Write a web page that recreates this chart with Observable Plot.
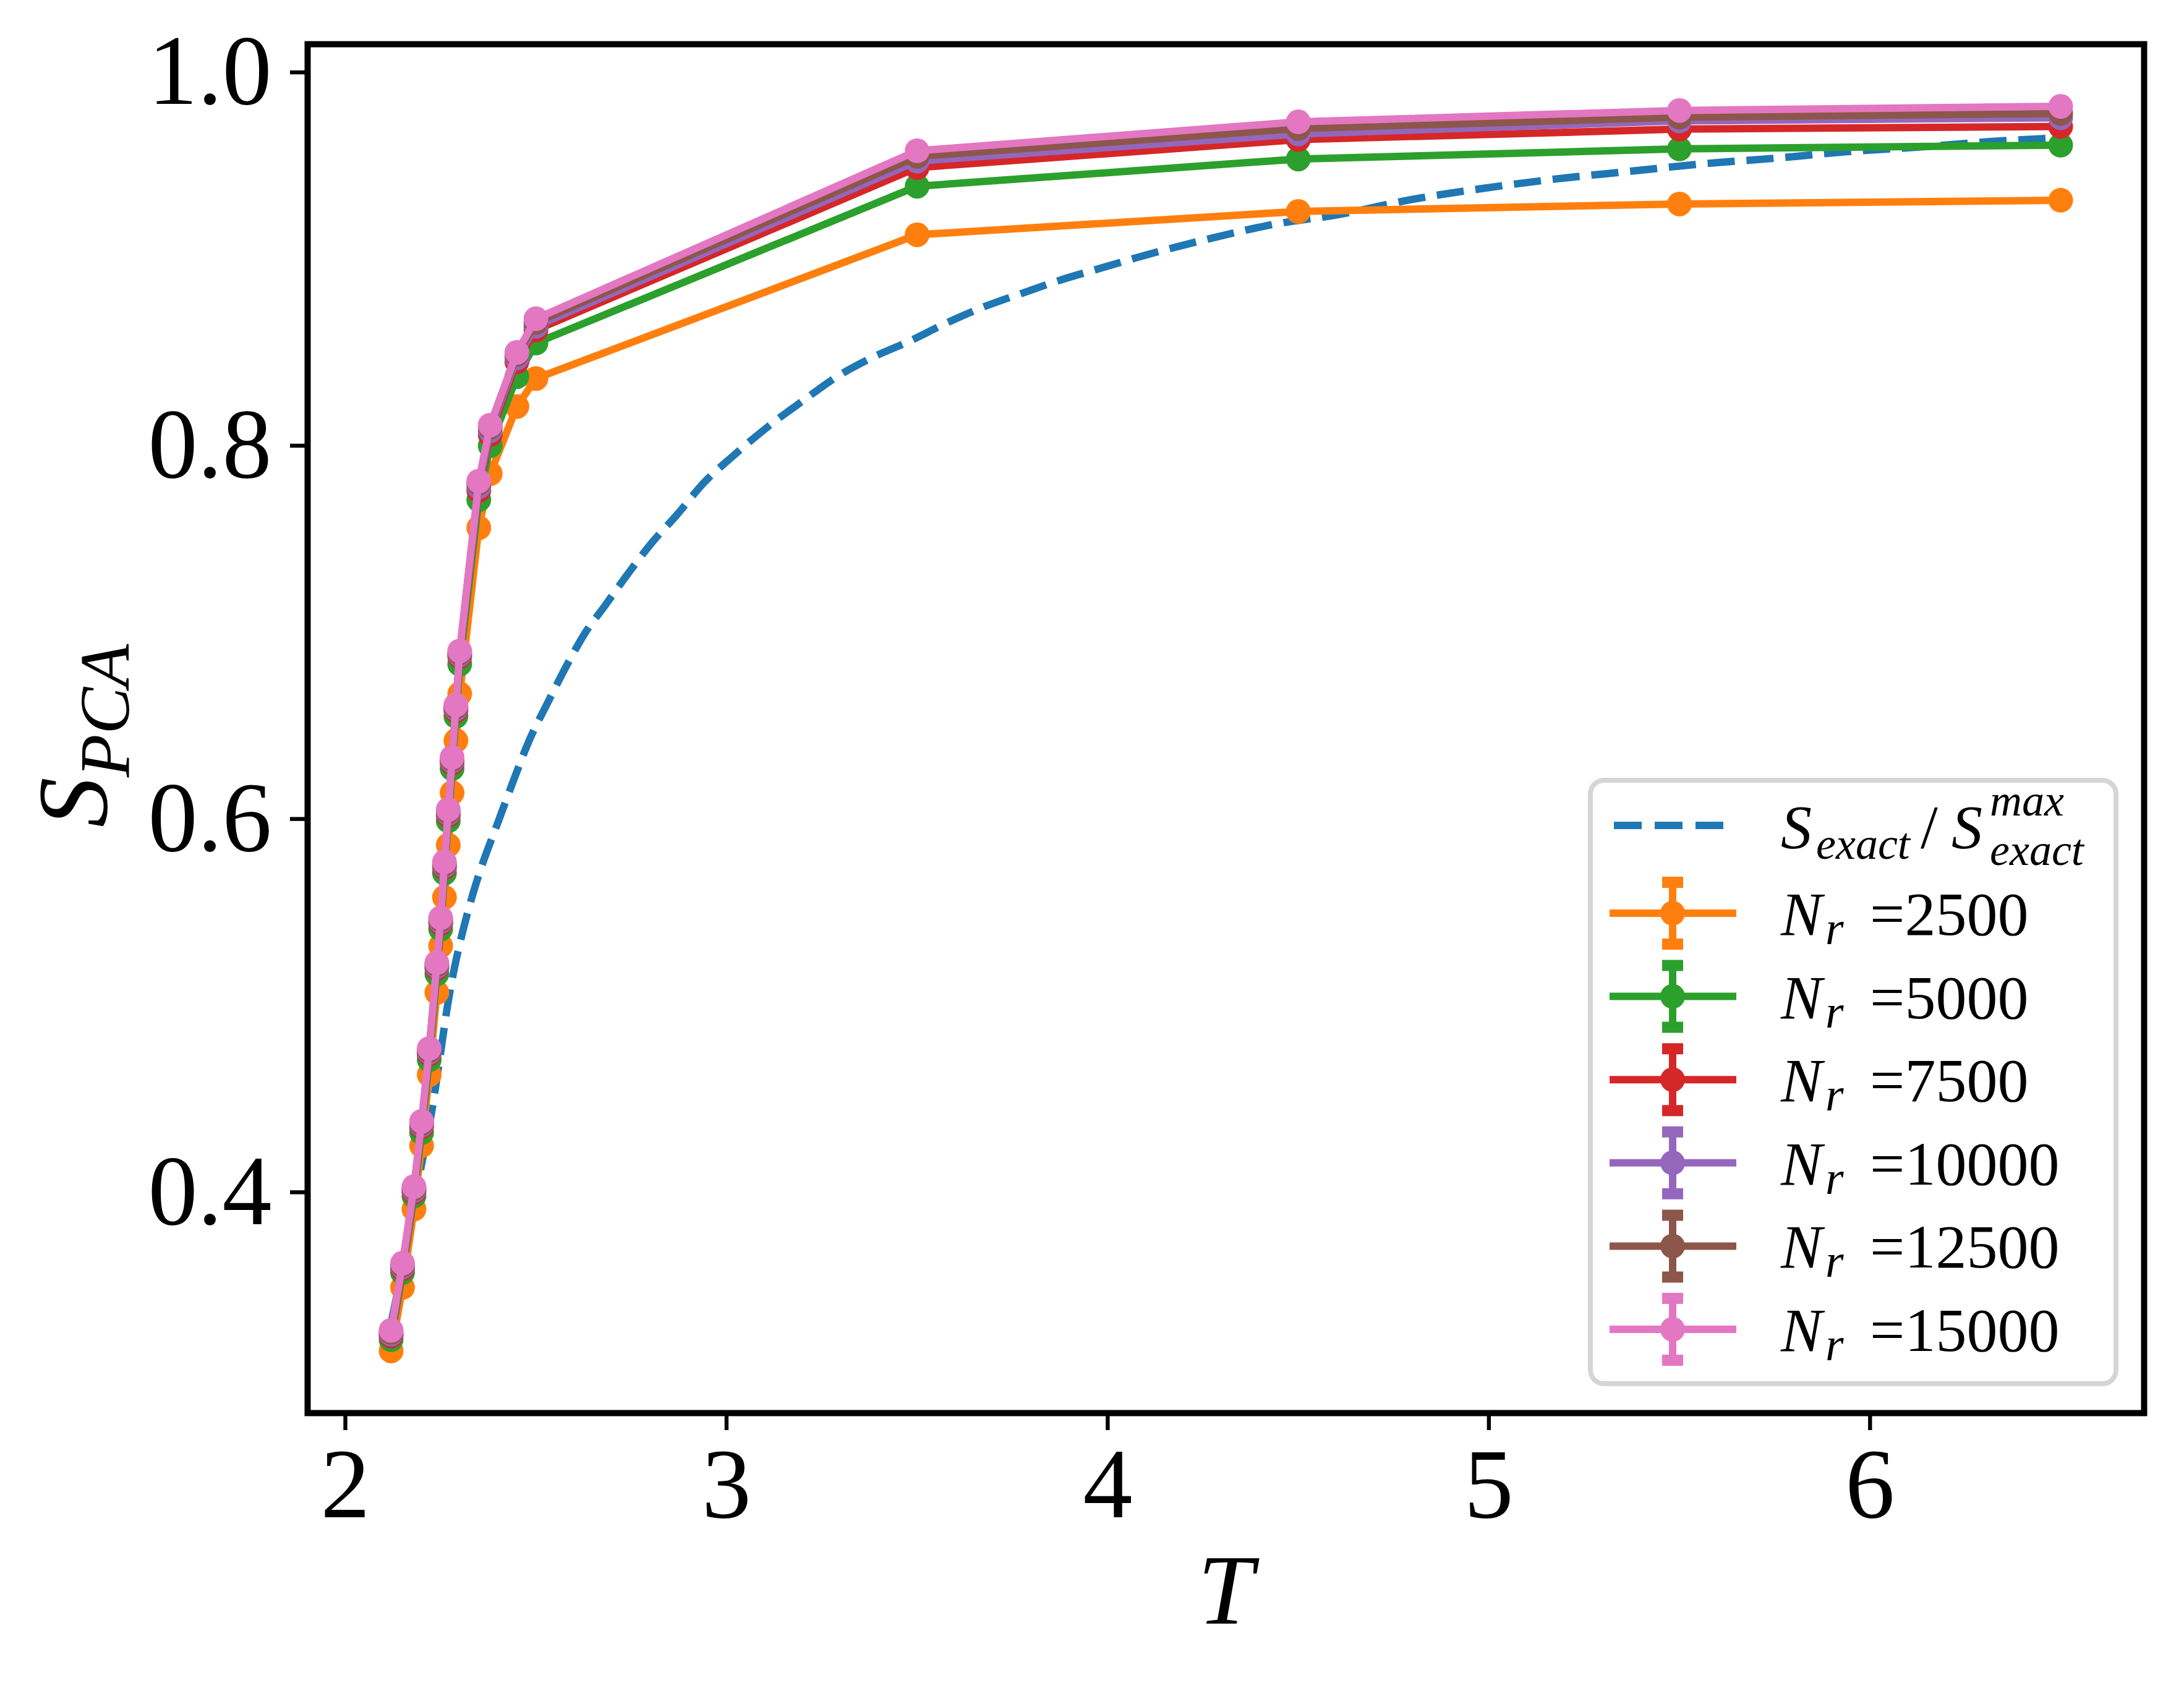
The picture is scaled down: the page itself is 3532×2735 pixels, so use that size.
<!DOCTYPE html>
<html>
<head>
<meta charset="utf-8">
<script src="https://cdn.jsdelivr.net/npm/d3@7"></script>
<script src="https://cdn.jsdelivr.net/npm/@observablehq/plot@0.6"></script>
<style>
  html, body { margin: 0; padding: 0; background: #ffffff; }
  #chart { width: 3532px; height: 2735px; }
</style>
</head>
<body>
<div id="chart"></div>
<script>
// ---------------- data ----------------
const T = [2.12, 2.15, 2.18, 2.20, 2.22, 2.24, 2.25, 2.26, 2.27, 2.28, 2.29, 2.30, 2.35, 2.38, 2.45, 2.50, 3.5, 4.5, 5.5, 6.5];

const S_N2500  = [0.315, 0.349, 0.391, 0.425, 0.463, 0.507, 0.532, 0.558, 0.586, 0.614, 0.642, 0.667, 0.756, 0.785, 0.821, 0.836, 0.913, 0.9255, 0.9295, 0.9315];
const S_N5000  = [0.321, 0.357, 0.398, 0.432, 0.471, 0.517, 0.541, 0.571, 0.599, 0.627, 0.655, 0.683, 0.771, 0.800, 0.837, 0.855, 0.939, 0.9536, 0.959, 0.961];
const S_N7500  = [0.323, 0.359, 0.400, 0.435, 0.474, 0.520, 0.544, 0.574, 0.602, 0.630, 0.658, 0.687, 0.776, 0.806, 0.845, 0.862, 0.949, 0.964, 0.9696, 0.971];
const S_N10000 = [0.324, 0.360, 0.401, 0.436, 0.475, 0.521, 0.545, 0.575, 0.603, 0.631, 0.659, 0.688, 0.778, 0.808, 0.847, 0.864, 0.9525, 0.967, 0.974, 0.9757];
const S_N12500 = [0.325, 0.361, 0.402, 0.437, 0.476, 0.522, 0.546, 0.576, 0.604, 0.632, 0.660, 0.689, 0.780, 0.810, 0.849, 0.866, 0.955, 0.970, 0.976, 0.978];
const S_N15000 = [0.326, 0.362, 0.403, 0.438, 0.477, 0.523, 0.547, 0.577, 0.605, 0.633, 0.661, 0.690, 0.781, 0.811, 0.850, 0.868, 0.958, 0.9735, 0.9796, 0.9818];

// exact curve S_exact / S_exact^max
const exactT = [2.12, 2.16, 2.20, 2.228, 2.25, 2.268, 2.283, 2.30, 2.325, 2.35, 2.40, 2.44, 2.48, 2.53, 2.58, 2.63, 2.68, 2.74, 2.80, 2.87, 2.94, 3.02, 3.12, 3.20, 3.29, 3.38, 3.48, 3.58, 3.67, 3.78, 3.88, 3.98, 4.08, 4.19, 4.31, 4.42, 4.61, 4.80, 4.99, 5.18, 5.37, 5.56, 5.75, 5.94, 6.13, 6.32, 6.50];
const exactS = [0.330, 0.370, 0.415, 0.445, 0.475, 0.500, 0.517, 0.533, 0.553, 0.570, 0.598, 0.620, 0.641, 0.662, 0.682, 0.700, 0.714, 0.731, 0.747, 0.763, 0.780, 0.795, 0.812, 0.824, 0.837, 0.847, 0.856, 0.866, 0.874, 0.882, 0.889, 0.895, 0.901, 0.907, 0.913, 0.918, 0.924, 0.932, 0.938, 0.943, 0.947, 0.951, 0.954, 0.9575, 0.960, 0.963, 0.965];

const seriesLabels = ["2500", "5000", "7500", "10000", "12500", "15000"];
const seriesValues = [S_N2500, S_N5000, S_N7500, S_N10000, S_N12500, S_N15000];
const seriesColors = ["#ff7f0e", "#2ca02c", "#d62728", "#9467bd", "#8c564b", "#e377c2"];
const exactColor = "#1f77b4";

const xTicks = [2, 3, 4, 5, 6];
const yTicks = [0.4, 0.6, 0.8, 1.0];
const xDomain = [1.901, 6.719];
const yDomain = [0.2817, 1.0151];

// ---------------- build ----------------
const FONT = "'Liberation Serif', 'DejaVu Serif', serif";
const exactRows = exactT.map((t, i) => ({T: t, S: exactS[i]}));
const series = seriesLabels.map((lab, k) => ({
  label: lab,
  color: seriesColors[k],
  rows: T.map((t, j) => ({T: t, S: seriesValues[k][j]}))
}));

const marks = [
  Plot.line(exactRows, {x: "T", y: "S", stroke: exactColor, strokeWidth: 12, strokeDasharray: "44,19", strokeLinecap: "butt", strokeLinejoin: "round", curve: "monotone-x"})
];
for (const s of series) {
  marks.push(Plot.line(s.rows, {x: "T", y: "S", stroke: s.color, strokeWidth: 12, strokeLinecap: "square", strokeLinejoin: "round"}));
  marks.push(Plot.dot(s.rows, {x: "T", y: "S", r: 20, fill: s.color, stroke: "none"}));
}
marks.push(
  Plot.axisX(xTicks, {tickSize: 28, tickPadding: 27, fontSize: 160, strokeWidth: 6.4, tickFormat: d => String(d), label: null, fontFamily: FONT}),
  Plot.axisY(yTicks, {tickSize: 28, tickPadding: 30, fontSize: 160, strokeWidth: 6.4, tickFormat: d3.format(".1f"), label: null, fontFamily: FONT}),
  Plot.frame({stroke: "black", strokeWidth: 10})
);

const chart = Plot.plot({
  width: 3532,
  height: 2735,
  marginLeft: 497,
  marginRight: 65,
  marginTop: 71,
  marginBottom: 450,
  x: {domain: xDomain},
  y: {domain: yDomain},
  style: {fontFamily: FONT, background: "white", color: "black", overflow: "visible"},
  marks
});
document.getElementById("chart").appendChild(chart);

// ---------------- axis labels & legend ----------------
const svg = d3.select(chart);
const ann = svg.append("g").attr("font-family", FONT).attr("fill", "black").attr("text-anchor", "start");

// x label
ann.append("text").attr("x", 1982).attr("y", 2626).attr("text-anchor", "middle")
  .attr("font-size", 162).attr("font-style", "italic").text("T");

// y label  S_PCA
const yl = ann.append("text").attr("transform", "translate(172,1190) rotate(-90)")
  .attr("text-anchor", "middle").attr("font-size", 162).attr("font-style", "italic");
yl.append("tspan").text("S");
yl.append("tspan").attr("font-size", 114).attr("dy", 36).text("PCA");

// legend
const leg = ann.append("g").attr("text-anchor", "start");
leg.append("rect").attr("x", 2572).attr("y", 1262).attr("width", 850).attr("height", 976)
  .attr("rx", 22).attr("fill", "white").attr("fill-opacity", 0.8)
  .attr("stroke", "#d5d5d5").attr("stroke-width", 8);

// exact entry
const y0 = 1335;
leg.append("line").attr("x1", 2610).attr("x2", 2788).attr("y1", y0).attr("y2", y0)
  .attr("stroke", exactColor).attr("stroke-width", 12).attr("stroke-dasharray", "45,21");
const fs = 100, fsSub = 76, fsEx = 72;
const ex = leg.append("text").attr("font-size", fs);
ex.append("tspan").attr("x", 2880).attr("y", y0 + 36).attr("font-style", "italic").text("S");
ex.append("tspan").attr("x", 2937).attr("y", y0 + 54).attr("font-size", fsEx).attr("font-style", "italic").text("exact");
ex.append("tspan").attr("x", 3106).attr("y", y0 + 36).text("/");
ex.append("tspan").attr("x", 3156).attr("y", y0 + 36).attr("font-style", "italic").text("S");
ex.append("tspan").attr("x", 3218).attr("y", y0 - 16).attr("font-size", fsEx).attr("font-style", "italic").text("max");
ex.append("tspan").attr("x", 3218).attr("y", y0 + 64).attr("font-size", fsEx).attr("font-style", "italic").text("exact");

// N_r entries
series.forEach((s, k) => {
  const cy = 1477 + k * 134.6;
  leg.append("line").attr("x1", 2603).attr("x2", 2808).attr("y1", cy).attr("y2", cy)
    .attr("stroke", s.color).attr("stroke-width", 12);
  leg.append("line").attr("x1", 2705).attr("x2", 2705).attr("y1", cy - 52).attr("y2", cy + 52)
    .attr("stroke", s.color).attr("stroke-width", 12);
  leg.append("line").attr("x1", 2688).attr("x2", 2722).attr("y1", cy - 50).attr("y2", cy - 50)
    .attr("stroke", s.color).attr("stroke-width", 18);
  leg.append("line").attr("x1", 2688).attr("x2", 2722).attr("y1", cy + 50).attr("y2", cy + 50)
    .attr("stroke", s.color).attr("stroke-width", 18);
  leg.append("circle").attr("cx", 2705).attr("cy", cy).attr("r", 20).attr("fill", s.color);
  const t = leg.append("text").attr("font-size", fs);
  t.append("tspan").attr("x", 2880).attr("y", cy + 35).attr("font-style", "italic").text("N");
  t.append("tspan").attr("x", 2952).attr("y", cy + 50).attr("font-size", fsSub).attr("font-style", "italic").text("r");
  t.append("tspan").attr("x", 3024).attr("y", cy + 35).text("=" + s.label);
});
</script>
</body>
</html>
